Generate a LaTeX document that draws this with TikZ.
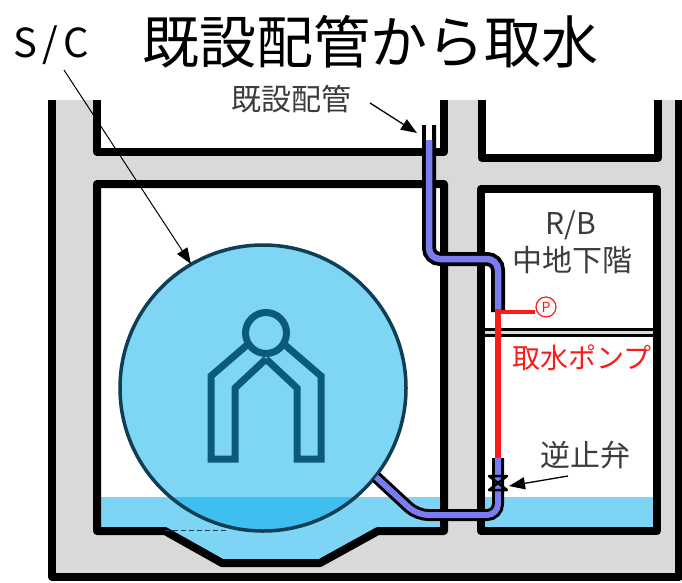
\documentclass[tikz,border=0pt]{standalone}
\usepackage{fontspec}
\newfontfamily\jpfont{Noto Sans CJK JP}
\usetikzlibrary{arrows.meta}
\definecolor{wallgray}{HTML}{D9D9D9}
\definecolor{water}{HTML}{7ED4F5}
\definecolor{tank}{HTML}{00ACEA}
\definecolor{tankline}{HTML}{0F3F55}
\definecolor{symbolline}{HTML}{0B5A7C}
\definecolor{pipeblue}{HTML}{7B7BF2}
\definecolor{pumpred}{HTML}{FF1A1A}
\definecolor{labelgray}{HTML}{3C3C3C}
\begin{document}
\begin{tikzpicture}[x=1pt,y=-1pt,
  wall/.style={line width=8pt, line join=round},
  pipeouter/.style={line width=14pt, black, rounded corners=11pt},
  pipeinner/.style={line width=6.5pt, pipeblue, rounded corners=11pt},
  lbl/.style={font=\jpfont\fontsize{30}{32}\selectfont, text=labelgray, inner sep=0pt},
  callout/.style={line width=1.3pt, -{Triangle[length=16pt,width=12pt]}},
]
\useasboundingbox (0,0) rectangle (682,582);

% concrete body
\fill[wallgray] (52,100) rectangle (679,577);

% upper floor rooms (open at the top)
\filldraw[wall, fill=white] (97,100) -- (97,152) -- (444,152) -- (444,100);
\filldraw[wall, fill=white] (482,100) -- (482,158) -- (658,158) -- (658,100);

% suppression chamber room with its pit
\fill[white] (97,184) -- (444,184) -- (444,531) -- (378,531) -- (320,563)
  -- (222,563) -- (165,531) -- (97,531) -- cycle;
\begin{scope}
  \clip (97,184) -- (444,184) -- (444,531) -- (378,531) -- (320,563)
    -- (222,563) -- (165,531) -- (97,531) -- cycle;
  \fill[water] (90,497) rectangle (450,570);
\end{scope}
\draw[wall] (97,184) -- (444,184) -- (444,531) -- (378,531) -- (320,563)
  -- (222,563) -- (165,531) -- (97,531) -- cycle;
\draw[tankline, line width=1pt, dash pattern=on 5pt off 3pt] (165,530) -- (228,530);

% reactor building room
\fill[white] (481,189) rectangle (657,531);
\fill[water] (481,497) rectangle (657,531);
\draw[wall] (481,189) rectangle (657,531);
\draw[line width=9pt] (481,332) -- (657,332);
\draw[line width=3pt, wallgray] (485,332) -- (653,332);

% outer wall
\draw[wall] (52,100) -- (52,577) -- (679,577) -- (679,100);

% suppression chamber
\draw[tankline, line width=3.5pt, fill=tank, fill opacity=0.5] (263,388) circle[radius=143pt];
\begin{scope}[symbolline, line width=7pt, line join=miter]
  \draw (266,333) circle[radius=20.5pt];
  \draw (247,345) -- (211,376) -- (211,459) -- (235,459) -- (235,388) -- (266,359);
  \draw (285,345) -- (321,376) -- (321,459) -- (297,459) -- (297,388) -- (266,359);
\end{scope}

% existing piping: upper run down to the pump
\draw[pipeouter] (429,125) -- (429,259) -- (498,259) -- (498,312);
\draw[pipeinner] (429,140) -- (429,259) -- (498,259) -- (498,312);
\draw[white, line width=6.5pt] (429,125) -- (429,140);
% lower run from the chamber up to the check valve
\draw[pipeouter, line width=12pt] (376,477) -- (417,515) -- (498,515) -- (498,458);
\draw[pipeinner, line width=6pt] (376,477) -- (417,515) -- (498,515) -- (498,458);

% pump line
\draw[pumpred, line width=5.5pt] (498,309) -- (498,458);
\node[circle, draw=pumpred, line width=1.2pt, minimum size=20pt, inner sep=0pt,
  text=pumpred, font=\jpfont\fontsize{14}{14}\selectfont] (pump) at (546,307) {P};
\coordinate (tee) at (498,312);
\draw[pumpred, line width=3.5pt] (tee) -- (pump.west |- tee);

% check valve
\draw[line width=2.5pt, line join=round] (489,476) -- (507,476) -- (489,490) -- (507,490) -- cycle;
\coordinate (valve) at (509,486);

% labels
\node[inner sep=0pt, text=black, font=\jpfont\fontsize{57}{60}\selectfont] (title) at (370,42) {既設配管から取水};
\node[inner sep=0pt, text=black, font=\jpfont\fontsize{40}{42}\selectfont] (sc) at (51,45) {S\kern5pt/\kern5pt C};
\node[lbl] (pipelbl) at (291,99) {既設配管};
\node[lbl] (rb) at (571,225) {R/B};
\node[lbl] (floor) at (572,260) {中地下階};
\node[lbl, text=pumpred, font=\jpfont\fontsize{28}{30}\selectfont] (pumplbl) at (582,358) {取水ポンプ};
\node[lbl] (valvelbl) at (585,455) {逆止弁};

% callout arrows
\coordinate (scfrom) at (64,70);
\coordinate (sctip) at (191,264);
\draw[callout, line width=1pt] (scfrom) -- (sctip);
\coordinate (pipefrom) at (370,103);
\coordinate (pipetip) at (417,133);
\draw[callout] (pipefrom) -- (pipetip);
\coordinate (valvefrom) at (568,476);
\draw[callout] (valvefrom) -- (valve);
\end{tikzpicture}
\end{document}
